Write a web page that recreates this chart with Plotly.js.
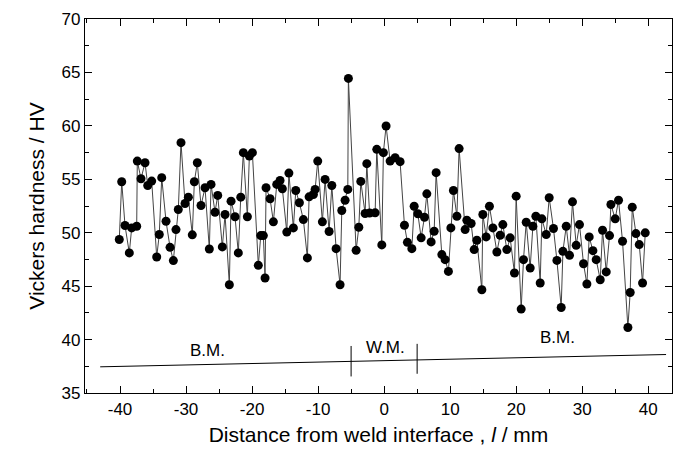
<!DOCTYPE html>
<html>
<head>
<meta charset="utf-8">
<script src="https://cdn.plot.ly/plotly-3.0.1.min.js"></script>
<style>html,body{margin:0;padding:0;background:#fff;}#chart{width:691px;height:452px;}</style>
</head>
<body>
<div id="chart"></div>
<script>
// Distance from weld interface (mm)
const distance = [
-40.11,-39.74,-39.24,-38.59,-38.23,-37.47,-37.38,-36.82,-36.21,-35.80,
-35.20,-34.44,-34.05,-33.68,-33.03,-32.42,-31.92,-31.52,-31.17,-30.76,
-30.15,-29.65,-29.05,-28.74,-28.29,-27.73,-27.12,-26.47,-26.21,-25.61,
-25.20,-24.50,-24.09,-23.44,-23.18,-22.58,-22.08,-21.71,-21.32,-20.71,
-20.41,-19.95,-19.05,-18.68,-18.29,-18.03,-17.88,-17.27,-16.77,-16.26,
-15.76,-15.41,-14.74,-14.42,-13.74,-13.38,-12.83,-12.23,-11.62,-11.36,
-10.71,-10.45,-10.05,-9.35,-8.94,-8.33,-7.92,-7.27,-6.67,-6.41,
-5.91,-5.50,-5.41,-4.24,-3.83,-3.53,-2.88,-2.62,-2.20,-1.36,
-1.11,-0.35,-0.11,0.30,0.91,1.67,2.42,3.08,3.53,4.20,
4.55,5.11,5.61,6.11,6.47,7.12,7.58,7.88,8.74,9.24,
9.74,10.11,10.50,11.02,11.36,12.27,12.53,13.18,13.64,14.05,
14.80,14.95,15.45,15.95,16.47,17.08,17.58,17.98,18.59,19.09,
19.74,20.00,20.76,21.11,21.52,22.12,22.53,22.98,23.64,23.89,
24.55,25.00,25.65,26.17,26.82,27.08,27.58,28.08,28.53,29.09,
29.59,30.20,30.71,31.06,31.62,32.12,32.73,33.08,33.64,34.14,
34.35,35.00,35.50,36.11,36.92,37.27,37.58,38.14,38.64,39.14,
39.55
];
// Vickers hardness (HV)
const hardness = [
49.36,54.77,50.67,48.11,50.45,50.60,56.70,55.05,56.55,54.42,
54.83,47.73,49.83,55.15,51.07,48.63,47.39,50.29,52.17,58.43,
52.73,53.33,49.80,54.77,56.55,52.55,54.21,48.48,54.52,51.92,
53.49,48.67,51.70,45.13,52.95,51.49,48.11,53.33,57.49,51.49,
57.17,57.49,46.95,49.73,49.73,45.76,54.21,53.18,51.02,54.52,
54.89,54.11,50.06,55.58,50.45,53.95,52.80,51.23,47.64,53.36,
53.58,54.05,56.70,51.02,54.99,50.11,54.42,48.51,45.13,52.08,
53.04,54.05,64.44,48.35,50.51,54.80,51.80,56.46,51.84,51.86,
57.80,48.86,57.49,59.99,56.70,57.02,56.65,50.70,49.10,48.51,
52.48,51.77,49.52,51.45,53.64,49.14,50.14,55.62,47.95,47.48,
46.38,50.45,53.95,51.54,57.87,50.29,51.17,50.86,48.42,49.29,
44.66,51.70,49.61,52.48,50.45,48.20,49.76,50.76,48.42,49.52,
46.23,53.42,42.85,47.48,50.98,46.70,50.60,51.54,45.29,51.30,
49.83,53.27,50.39,47.41,43.00,48.26,50.60,47.88,52.89,48.82,
50.76,47.10,45.20,49.61,48.32,47.48,45.60,50.23,46.33,49.73,
52.64,51.30,53.04,49.20,41.13,44.41,52.39,49.92,48.89,45.29,
49.99
];
// Zone labels
const zoneLabels = ["B.M.", "W.M.", "B.M."];
const zoneLabelX = [-26.8, 0.15, 26.2];
const zoneLabelY = [39.0, 39.3, 40.2];
const xTicks = [-40, -30, -20, -10, 0, 10, 20, 30, 40];
const yTicks = [35, 40, 45, 50, 55, 60, 65, 70];

const fontFam = '"Liberation Sans", Arial, Helvetica, sans-serif';

const trace = {
  x: distance, y: hardness, type: 'scatter', mode: 'lines+markers',
  line: {color: '#444', width: 1},
  marker: {color: '#000', size: 9, line: {width: 0}},
  hoverinfo: 'skip', showlegend: false
};

const annotations = zoneLabels.map((t, i) => ({
  x: zoneLabelX[i], y: zoneLabelY[i], xref: 'x', yref: 'y', text: t,
  showarrow: false, font: {family: fontFam, size: 17, color: '#000'},
  xanchor: 'center', yanchor: 'middle'
}));

const shapes = [
  {type: 'line', xref: 'x', yref: 'y', x0: -43.0, y0: 37.45, x1: 42.7, y1: 38.6, line: {color: '#000', width: 1}},
  {type: 'line', xref: 'x', yref: 'y', x0: -5, y0: 36.55, x1: -5, y1: 39.4, line: {color: '#000', width: 1}},
  {type: 'line', xref: 'x', yref: 'y', x0: 5, y0: 36.8, x1: 5, y1: 39.6, line: {color: '#000', width: 1}}
];

const layout = {
  width: 691, height: 452,
  margin: {l: 85, r: 19, t: 19, b: 59},
  paper_bgcolor: '#fff', plot_bgcolor: '#fff',
  font: {family: fontFam, color: '#000'},
  xaxis: {
    range: [-45.3, 43.6], tickvals: xTicks, ticktext: xTicks.map(String),
    ticks: 'inside', ticklen: 7, tickwidth: 1, tickcolor: '#000',
    minor: {dtick: 5, tick0: 0, ticks: 'inside', ticklen: 4, tickcolor: '#000', showgrid: false},
    showline: true, linecolor: '#000', linewidth: 1.2, mirror: 'ticks',
    showgrid: false, zeroline: false,
    tickfont: {size: 17, family: fontFam},
    title: {text: 'Distance from weld interface , <i>l</i> / mm', font: {size: 21, family: fontFam}, standoff: 9}
  },
  yaxis: {
    range: [35, 70], tickvals: yTicks, ticktext: yTicks.map(String),
    ticks: 'inside', ticklen: 7, tickwidth: 1, tickcolor: '#000',
    minor: {dtick: 2.5, tick0: 35, ticks: 'inside', ticklen: 4, tickcolor: '#000', showgrid: false},
    showline: true, linecolor: '#000', linewidth: 1.2, mirror: 'ticks',
    showgrid: false, zeroline: false,
    tickfont: {size: 17, family: fontFam},
    title: {text: 'Vickers hardness / HV', font: {size: 21, family: fontFam}, standoff: 11}
  },
  annotations: annotations,
  shapes: shapes
};

Plotly.newPlot('chart', [trace], layout, {staticPlot: true, displayModeBar: false});
</script>
</body>
</html>
